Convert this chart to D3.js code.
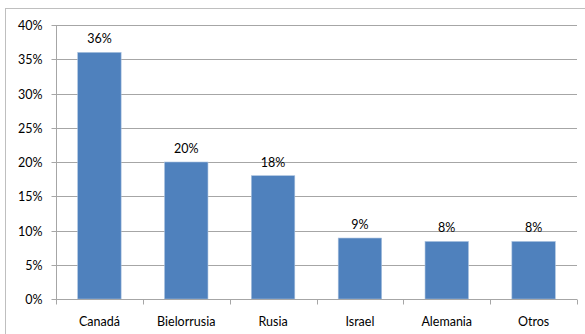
<!DOCTYPE html>
<html>
<head>
<meta charset="utf-8">
<script src="https://cdn.jsdelivr.net/npm/d3@7/dist/d3.min.js"></script>
<style>
  html, body { margin: 0; padding: 0; background: #fff; }
  svg { display: block; }
  text { font-family: Lato, "Open Sans", "Liberation Sans", sans-serif; fill: #000; }
</style>
</head>
<body>
<svg id="chart" width="585" height="334"></svg>
<script>
// Share by country of origin (percent)
const categories = ["Canadá", "Bielorrusia", "Rusia", "Israel", "Alemania", "Otros"];
const values = [36, 20, 18, 8.9, 8.4, 8.4];
const yTicks = [0, 5, 10, 15, 20, 25, 30, 35, 40];

const svg = d3.select("#chart");
const W = 585, H = 334;
const m = { left: 56, right: 8, top: 25, bottom: 35 };

// Chart frame
svg.append("rect")
  .attr("x", 5.5).attr("y", 8.5)
  .attr("width", W + 10).attr("height", H + 10)
  .attr("fill", "#fff").attr("stroke", "#BFBFBF").attr("stroke-width", 1);

const x = d3.scaleBand().domain(categories)
  .range([m.left, 577]).paddingInner(0.5).paddingOuter(0.25);
const y = d3.scaleLinear().domain([0, 40]).range([299, 25]);

// Horizontal gridlines
svg.append("g").selectAll("line").data(yTicks.slice(1)).join("line")
  .attr("x1", m.left).attr("x2", 577)
  .attr("y1", d => Math.round(y(d)) + 0.5).attr("y2", d => Math.round(y(d)) + 0.5)
  .attr("stroke", "#A6A6A6").attr("stroke-width", 1);

// Y axis
const yAxis = svg.append("g").attr("transform", `translate(${m.left + 0.5},0.5)`)
  .call(d3.axisLeft(y).tickValues(yTicks).tickFormat(d => d + "%").tickSize(5).tickPadding(9));
yAxis.select(".domain").attr("stroke", "#A6A6A6").attr("d", `M0,${y(40)}V${y(0)}`);
yAxis.selectAll(".tick line").attr("stroke", "#A6A6A6");
yAxis.selectAll(".tick text").attr("font-size", 12.5).attr("font-family", "Lato, sans-serif").attr("fill", "#000");
yAxis.selectAll(".tick").attr("transform", d => `translate(0,${Math.round(y(d))})`);

// Bars
svg.append("g").selectAll("rect").data(values).join("rect")
  .attr("x", (d, i) => x(categories[i]))
  .attr("y", d => y(d))
  .attr("width", x.bandwidth())
  .attr("height", d => y(0) - y(d))
  .attr("fill", "#4F81BD")
  .attr("stroke", "#A7C0DE").attr("stroke-width", 0.6);

// X axis with boundary ticks
const step = x.step();
const xa = svg.append("g").attr("transform", `translate(0,${y(0) + 0.5})`);
xa.append("line").attr("x1", m.left).attr("x2", 577).attr("stroke", "#A6A6A6");
const bounds = d3.range(categories.length + 1).map(i => m.left + i * step);
xa.selectAll("line.tk").data(bounds).join("line").attr("class", "tk")
  .attr("x1", d => Math.round(d) + 0.5).attr("x2", d => Math.round(d) + 0.5)
  .attr("y1", 0).attr("y2", 5).attr("stroke", "#A6A6A6");
xa.selectAll("text").data(categories).join("text")
  .attr("x", d => x(d) + x.bandwidth() / 2)
  .attr("y", 26)
  .attr("text-anchor", "middle")
  .attr("font-size", 12.5)
  .text(d => d);

// Value labels
const fmt = v => Math.round(v) + "%";
svg.append("g").selectAll("text").data(values).join("text")
  .attr("x", (d, i) => x(categories[i]) + x.bandwidth() / 2)
  .attr("y", d => y(d) - 9)
  .attr("text-anchor", "middle")
  .attr("font-size", 12.5)
  .text(d => fmt(d));
</script>
</body>
</html>
